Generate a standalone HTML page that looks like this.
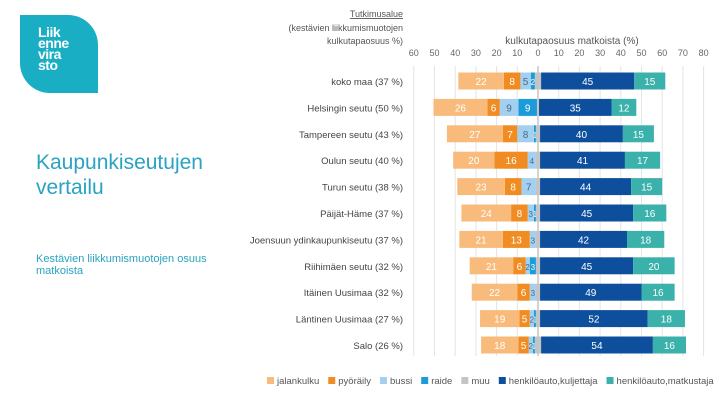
<!DOCTYPE html>
<html><head><meta charset="utf-8"><style>
body{margin:0;width:720px;height:405px;background:#fff;overflow:hidden;position:relative;font-family:"Liberation Sans",sans-serif}
.logo{position:absolute;left:20px;top:15px;width:78px;height:78px;background:#1aaec4;border-radius:0 30px 0 30px}
.logo span{position:absolute;left:18px;top:12px;color:#fff;font-size:14px;line-height:11px;font-weight:bold;letter-spacing:-0.5px}
.title{position:absolute;left:36px;top:150px;color:#2aa3c0;font-size:21px;line-height:25px}
.sub{position:absolute;left:36px;top:253px;color:#2aa3c0;font-size:11px;line-height:12px}
svg{position:absolute;left:0;top:0}
text{font-family:"Liberation Sans",sans-serif}
</style></head><body>
<div class="logo"><span>Liik<br>enne<br>vira<br>sto</span></div>
<div class="title">Kaupunkiseutujen<br>vertailu</div>
<div class="sub">Kestävien liikkumismuotojen osuus<br>matkoista</div>
<svg id="c" width="720" height="405"></svg>
<script>
const categories=["koko maa (37 %)","Helsingin seutu (50 %)","Tampereen seutu (43 %)","Oulun seutu (40 %)","Turun seutu (38 %)","Päijät-Häme (37 %)","Joensuun ydinkaupunkiseutu (37 %)","Riihimäen seutu (32 %)","Itäinen Uusimaa (32 %)","Läntinen Uusimaa (27 %)","Salo (26 %)"];
const jalankulku=[22,26,27,20,23,24,21,21,22,19,18];
const pyoraily=[8,6,7,16,8,8,13,6,6,5,5];
const bussi=[5,9,8,4,7,3,3,2,3,2,2];
const raide=[2,9,1,0,0,1,0,3,0,1,1];
const muu=[3,1,2,2,2,2,2,2,2,2,3];
const kuljettaja=[45,35,40,41,44,45,42,45,49,52,54];
const matkustaja=[15,12,15,17,15,16,18,20,16,18,16];
const ticks=[-60,-50,-40,-30,-20,-10,0,10,20,30,40,50,60,70,80];
const legendLabels=["jalankulku","pyöräily","bussi","raide","muu","henkilöauto,kuljettaja","henkilöauto,matkustaja"];
const colors=["#f8bb7c","#f08c22","#a3d0f0","#1b9bd9","#c4c4c4","#0e4f9d","#3bb1ab"];
const svg=document.getElementById('c');const NS="http://www.w3.org/2000/svg";
function x(v){return 538+v*2.07;}
function y(i){return 81+i*26.4;}
function el(t,a,p){const e=document.createElementNS(NS,t);for(const k in a)e.setAttribute(k,a[k]);(p||svg).appendChild(e);return e;}
function tx(s,a){const e=el('text',a);e.textContent=s;return e;}
ticks.forEach(t=>{
 const g=el('line',{x1:x(t),x2:x(t),y1:66,y2:356,stroke:t===0?'#aaa':'#e4e4e4','stroke-width':1});
 
 
 const l=tx(String(Math.abs(t)),{x:x(t),y:56,'font-size':9,fill:'#666','text-anchor':'middle'});
 
 
});
const h1=tx('Tutkimusalue',{x:403,y:17,'font-size':9,fill:'#555','text-anchor':'end','text-decoration':'underline'});

tx('(kestävien liikkumismuotojen',{x:403,y:31,'font-size':9,fill:'#555','text-anchor':'end'});
tx('kulkutapaosuus %)',{x:403,y:44,'font-size':9,fill:'#555','text-anchor':'end'});
const at=tx('kulkutapaosuus matkoista (%)',{x:572,y:44,'font-size':10,fill:'#555','text-anchor':'middle'});

categories.forEach((c,i)=>{
 const cy=y(i);
 const lb=tx(c,{x:403,y:cy+4,'font-size':9.5,fill:'#444','text-anchor':'end'});
 
 
 const m=muu[i];
 let pos=-m/2;
 const left=[raide[i],bussi[i],pyoraily[i],jalankulku[i]];const lc=[3,2,1,0];
 left.forEach((v,k)=>{
  const r=el('rect',{x:x(pos-v),y:cy-8.5,width:v*2.07,height:17,fill:colors[lc[k]]});
  
  
  if(v>=1){const t=tx(String(v),{x:x(pos-v/2),y:cy+4,'font-size':v<5?8:10,fill:lc[k]===2?'#4a6a8a':'#fff','text-anchor':'middle'});}
  pos-=v;
 });
 const mr=el('rect',{x:x(-m/2),y:cy-8.5,width:m*2.07,height:17,fill:colors[4]});
 
 
 let p=m/2;
 [[kuljettaja[i],5],[matkustaja[i],6]].forEach(([v,k])=>{
  const r=el('rect',{x:x(p),y:cy-8.5,width:v*2.07,height:17,fill:colors[k]});
  
  
  tx(String(v),{x:x(p+v/2),y:cy+4,'font-size':10,fill:'#fff','text-anchor':'middle'});
  p+=v;
 });
});
let lx=267;
legendLabels.forEach((l,k)=>{
 const s=el('rect',{x:lx,y:377,width:7,height:7,fill:colors[k]});
 
 
 const t=tx(l,{x:lx+10,y:384,'font-size':9.5,fill:'#555'});
 
 
 lx+=10+t.getComputedTextLength()+9;
});
</script>
</body></html>
